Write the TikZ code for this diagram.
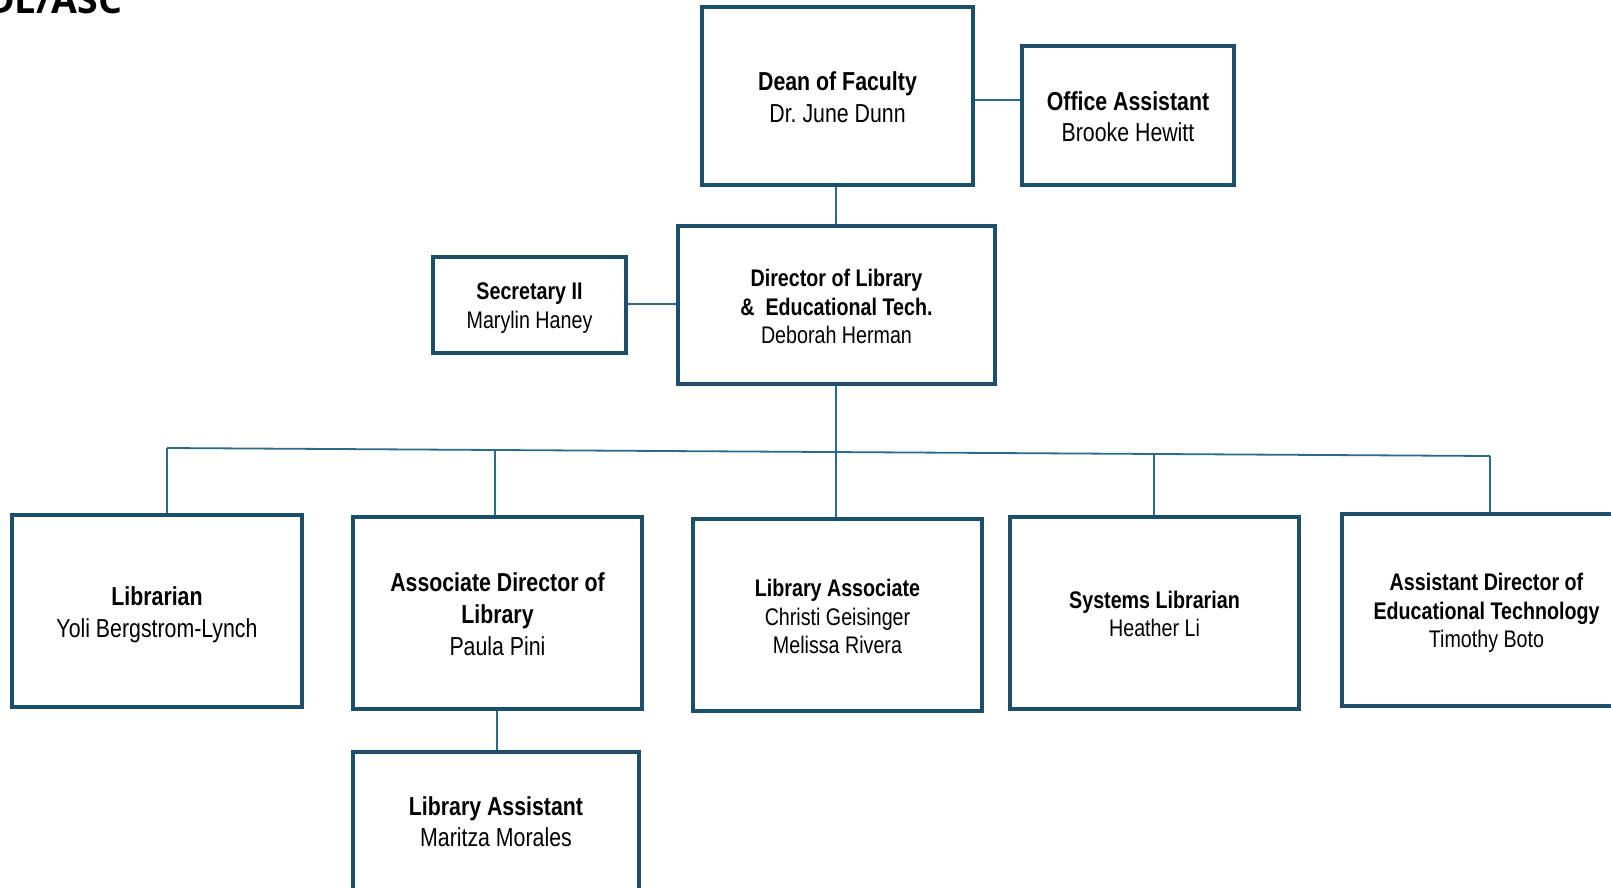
\documentclass[tikz,border=0pt]{standalone}
\usepackage{fontspec}
\setmainfont{Liberation Sans}[FakeStretch=0.82]
\newfontfamily\headfont{Open Sans}
\definecolor{boxline}{HTML}{1B4F6C}
\definecolor{conline}{HTML}{2A6A8A}
\begin{document}
\begin{tikzpicture}[x=1pt,y=-1pt,
  box/.style={draw=boxline,line width=3.6pt,fill=white,rectangle,inner sep=0pt},
  txt/.style={align=center,text=black,inner sep=0pt,execute at begin node=\frenchspacing},
  big/.style={txt,font=\fontsize{26}{32}\selectfont},
  bigb/.style={txt,font=\fontsize{26}{31}\selectfont},
  small/.style={txt,font=\fontsize{24}{28.5}\selectfont},
  con/.style={draw=conline,line width=1.8pt}]
\useasboundingbox (0,0) rectangle (1611,887);
% partial heading
\node[anchor=base west,inner sep=0pt,font=\headfont\bfseries\fontsize{37.5}{42}\selectfont] (title) at (-13,13) {DL/ASC};
% boxes
\node[box,minimum width=271,minimum height=178] (dean) at (837.5,96) {};
\node[box,minimum width=212,minimum height=139] (office) at (1128,115.5) {};
\node[box,minimum width=317,minimum height=158] (director) at (836.5,305) {};
\node[box,minimum width=193,minimum height=96] (secretary) at (529.5,305) {};
\node[box,minimum width=290,minimum height=192] (librarian) at (157,611) {};
\node[box,minimum width=289,minimum height=192] (assoc) at (497.5,613) {};
\node[box,minimum width=289,minimum height=192] (libassoc) at (837.5,615) {};
\node[box,minimum width=289,minimum height=192] (systems) at (1154.5,613) {};
\node[box,minimum width=289,minimum height=192] (asstdir) at (1486.5,610) {};
\node[box,minimum width=286,minimum height=140] (libassist) at (496,822) {};
% texts
\node[big,yshift=-1pt] (deanT) at (dean.center) {\textbf{Dean of Faculty}\\Dr. June Dunn};
\node[bigb,yshift=-1pt] (officeT) at (office.center) {\textbf{Office Assistant}\\Brooke Hewitt};
\node[small,yshift=-1.5pt] (directorT) at (director.center) {\textbf{Director of Library}\\\textbf{\&~ Educational Tech.}\\Deborah Herman};
\node[small,yshift=-3pt] (secretaryT) at (secretary.center) {\textbf{Secretary II}\\Marylin Haney};
\node[big,yshift=-4pt] (librarianT) at (librarian.center) {\textbf{Librarian}\\Yoli Bergstrom-Lynch};
\node[big,yshift=-1pt] (assocT) at (assoc.center) {\textbf{Associate Director of}\\\textbf{Library}\\Paula Pini};
\node[small,yshift=-1.5pt] (libassocT) at (libassoc.center) {\textbf{Library Associate}\\Christi Geisinger\\Melissa Rivera};
\node[small,yshift=-1pt] (systemsT) at (systems.center) {\textbf{Systems Librarian}\\Heather Li};
\node[small,yshift=-3pt] (asstdirT) at (asstdir.center) {\textbf{Assistant Director of}\\\textbf{Educational Technology}\\Timothy Boto};
\node[bigb] (libassistT) at (libassist.center) {\textbf{Library Assistant}\\Maritza Morales};
% bus coordinates
\coordinate (b1) at (167,448);
\coordinate (b2) at (495,450);
\coordinate (b4) at (1154,454);
\coordinate (b5) at (1490,456);
% connectors
\draw[con] (dean.south -| 836,0) -- (director.north -| 836,0);
\draw[con] (dean.east |- 0,100) -- (office.west |- 0,100);
\draw[con] (secretary.east |- 0,304) -- (director.west |- 0,304);
\draw[con] (director.south -| 836,0) -- (libassoc.north -| 836,0);
\draw[con] (b1) -- (b5);
\draw[con] (b1) -- (librarian.north -| b1);
\draw[con] (b2) -- (assoc.north -| b2);
\draw[con] (b4) -- (systems.north -| b4);
\draw[con] (b5) -- (asstdir.north -| b5);
\draw[con] (assoc.south -| 497,0) -- (libassist.north -| 497,0);
\end{tikzpicture}
\end{document}
